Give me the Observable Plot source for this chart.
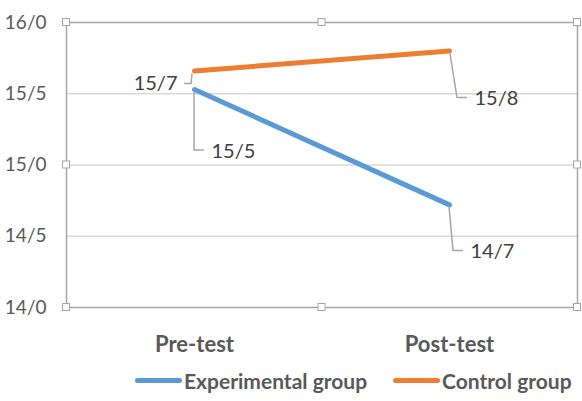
<!DOCTYPE html>
<html><head><meta charset="utf-8">
<script src="https://cdn.jsdelivr.net/npm/d3@7"></script>
<script src="https://cdn.jsdelivr.net/npm/@observablehq/plot@0.6"></script>
<style>
body{margin:0;background:#fff;font-family:Lato,"Liberation Sans",sans-serif;}
#legend{position:relative;height:41px;width:582px;}
.item{position:absolute;top:0;height:41px;display:flex;align-items:center;font-weight:bold;font-size:21px;color:#595959;}
.swatch{display:inline-block;width:47px;height:5px;border-radius:3px;margin-right:2px;}
</style></head><body><div id="chart"></div><div id="legend"></div>
<script>
// ---- data ----
const phases = ["Pre-test", "Post-test"];
const seriesNames = ["Experimental group", "Control group"];
const experimental = [15.53, 14.72];
const control = [15.66, 15.80];
const experimentalLabels = ["15/5", "14/7"];
const controlLabels = ["15/7", "15/8"];
const yTicks = [14, 14.5, 15, 15.5, 16];
const yTickLabels = ["14/0", "14/5", "15/0", "15/5", "16/0"];
const gridValues = [14.5, 15, 15.5];
const colors = ["#5B9BD5", "#ED7D31"];

const rows = [];
[experimental, control].forEach((vals, s) => vals.forEach((v, i) =>
  rows.push({series: seriesNames[s], phase: phases[i], value: v,
             label: (s === 0 ? experimentalLabels : controlLabels)[i], s, i})));

// leader-line geometry (pixel offsets from the point) – styling only
const leaders = [
  {s: 0, i: 0, path: [[0, 2], [0, 61], [10, 61]], lx: 17, ly: 62, anchor: "start"},
  {s: 0, i: 1, path: [[0, 2], [4, 46], [14, 46]], lx: 21, ly: 47, anchor: "start"},
  {s: 1, i: 0, path: [[-2, 3], [-3, 13], [-10, 13]], lx: -17, ly: 13, anchor: "end"},
  {s: 1, i: 1, path: [[1, 3], [8, 47], [18, 47]], lx: 25, ly: 48, anchor: "start"}
];

const W = 582, H = 360, ML = 66, MR = 5, MT = 22, MB = 53;

const labelMarks = leaders.map(l => Plot.text(rows.filter(r => r.s === l.s && r.i === l.i), {
  x: "phase", y: "value", text: "label", dx: l.lx, dy: l.ly, textAnchor: l.anchor,
  fill: "#404040", fontSize: 20
}));

const plot = Plot.plot({
  width: W, height: H,
  marginLeft: ML, marginRight: MR, marginTop: MT, marginBottom: MB,
  style: {fontFamily: "Lato, 'Liberation Sans', sans-serif", fontSize: "19px", color: "#595959", background: "#fff"},
  x: {type: "point", domain: phases, padding: 0.5, label: null},
  y: {domain: [14, 16], label: null},
  color: {domain: seriesNames, range: colors},
  marks: [
    Plot.ruleY(gridValues, {stroke: "#d9d9d9", strokeWidth: 1.5}),
    Plot.frame({stroke: "#a6a6a6", strokeWidth: 1.5}),
    Plot.axisY(yTicks, {tickSize: 0, tickPadding: 20, fontSize: 19,
      tickFormat: d => yTickLabels[yTicks.indexOf(d)], color: "#595959"}),
    Plot.axisX({tickSize: 0, tickPadding: 29, fontSize: 22, fontWeight: "bold", color: "#595959"}),
    Plot.line(rows, {x: "phase", y: "value", z: "series", stroke: "series", strokeWidth: 5, strokeLinecap: "round"}),
    ...labelMarks
  ]
});
document.getElementById("chart").appendChild(plot);

// leader lines using the plot's scales
const xs = plot.scale("x"), ys = plot.scale("y");
const svg = d3.select(plot);
const lg = svg.append("g");
leaders.forEach(l => {
  const r = rows.find(r => r.s === l.s && r.i === l.i);
  const px = xs.apply(r.phase), py = ys.apply(r.value);
  lg.append("path")
    .attr("d", d3.line()(l.path.map(([dx, dy]) => [px + dx, py + dy])))
    .attr("fill", "none").attr("stroke", "#a6a6a6").attr("stroke-width", 1.5);
});
svg.selectAll("g[aria-label=text]").raise();

// selection handles on the plot frame
const [x0, x1] = [ML, W - MR], [y0, y1] = [MT, H - MB];
const hg = svg.append("g");
[[x0, y0], [(x0 + x1) / 2, y0], [x1, y0], [x0, (y0 + y1) / 2], [x1, (y0 + y1) / 2],
 [x0, y1], [(x0 + x1) / 2, y1], [x1, y1]].forEach(([hx, hy]) =>
  hg.append("rect").attr("x", hx - 3.5).attr("y", hy - 3.5).attr("width", 7).attr("height", 7)
    .attr("fill", "#fff").attr("stroke", "#a6a6a6").attr("stroke-width", 1));

// legend
const legend = document.getElementById("legend");
const legendLeft = [135, 393];
seriesNames.forEach((name, k) => {
  const it = document.createElement("div");
  it.className = "item";
  it.style.left = legendLeft[k] + "px";
  it.innerHTML = `<span class="swatch" style="background:${colors[k]}"></span>${name}`;
  legend.appendChild(it);
});
</script>
</body></html>
